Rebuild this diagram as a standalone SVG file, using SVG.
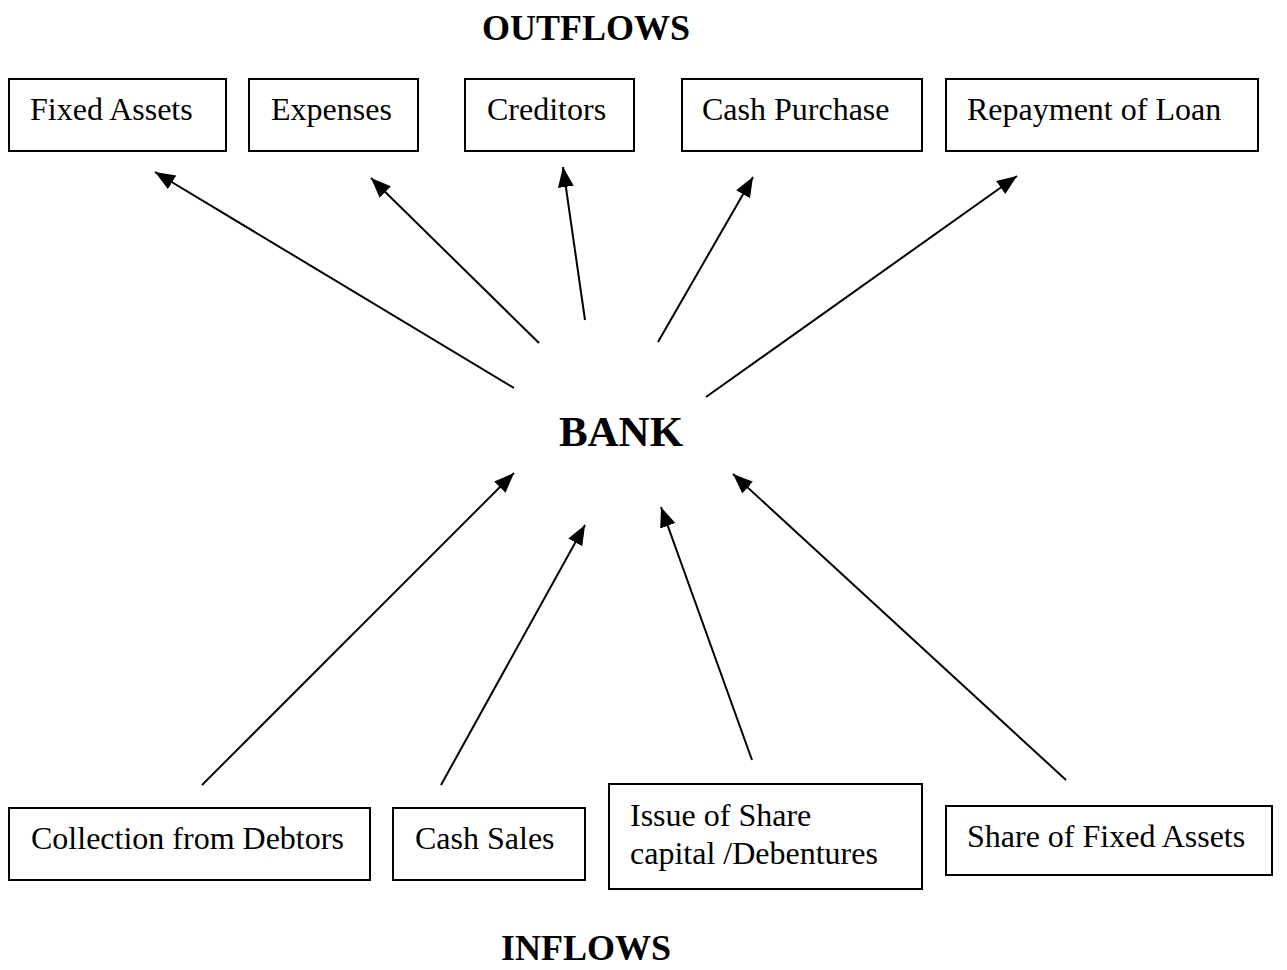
<svg xmlns="http://www.w3.org/2000/svg" width="1287" height="970" viewBox="0 0 1287 970">
<style>
.box{fill:#fff;stroke:#000;stroke-width:2}
.lbl{font-family:"Liberation Serif","Times New Roman",serif;font-size:32px;fill:#000}
.ttl{font-family:"Liberation Serif","Times New Roman",serif;font-size:36px;font-weight:bold;fill:#000}
.bank{font-family:"Liberation Serif","Times New Roman",serif;font-size:43px;font-weight:bold;fill:#000}
.arr{stroke:#000;stroke-width:2;fill:none;marker-end:url(#ah)}
</style>
<defs>
<marker id="ah" markerUnits="userSpaceOnUse" markerWidth="22" markerHeight="18" refX="20" refY="8" orient="auto">
<path d="M0,0 L20,8 L0,16 z" fill="#000"/>
</marker>
</defs>
<rect width="1287" height="970" fill="#fff"/>
<text id="outflows" class="ttl" x="586" y="40" text-anchor="middle">OUTFLOWS</text>
<text id="inflows" class="ttl" x="586" y="960" text-anchor="middle">INFLOWS</text>
<g id="bank"><text class="bank" x="621" y="446" text-anchor="middle">BANK</text></g>
<g id="fixed-assets"><rect class="box" x="9" y="79" width="217" height="72"/><text class="lbl" x="30" y="120">Fixed Assets</text></g>
<g id="expenses"><rect class="box" x="249" y="79" width="169" height="72"/><text class="lbl" x="271" y="120">Expenses</text></g>
<g id="creditors"><rect class="box" x="465" y="79" width="169" height="72"/><text class="lbl" x="487" y="120">Creditors</text></g>
<g id="cash-purchase"><rect class="box" x="682" y="79" width="240" height="72"/><text class="lbl" x="702" y="120">Cash Purchase</text></g>
<g id="repayment"><rect class="box" x="946" y="79" width="312" height="72"/><text class="lbl" x="967" y="120">Repayment of Loan</text></g>
<g id="collection"><rect class="box" x="9" y="808" width="361" height="72"/><text class="lbl" x="31" y="849">Collection from Debtors</text></g>
<g id="cash-sales"><rect class="box" x="393" y="808" width="192" height="72"/><text class="lbl" x="415" y="849">Cash Sales</text></g>
<g id="issue"><rect class="box" x="609" y="784" width="313" height="105"/><text class="lbl" x="630" y="826">Issue of Share</text><text class="lbl" x="630" y="864">capital /Debentures</text></g>
<g id="share-fa"><rect class="box" x="946" y="806" width="326" height="69"/><text class="lbl" x="967" y="847">Share of Fixed Assets</text></g>
<g id="connectors">
<line class="arr" x1="514" y1="388" x2="155" y2="172"/>
<line class="arr" x1="539" y1="343" x2="371" y2="178"/>
<line class="arr" x1="585" y1="320" x2="563" y2="167"/>
<line class="arr" x1="658" y1="342" x2="753" y2="177"/>
<line class="arr" x1="706" y1="397" x2="1017" y2="176"/>
<line class="arr" x1="202" y1="785" x2="514" y2="473"/>
<line class="arr" x1="441" y1="785" x2="585" y2="525"/>
<line class="arr" x1="752" y1="760" x2="661" y2="507"/>
<line class="arr" x1="1066" y1="780" x2="733" y2="474"/>
</g>
</svg>
